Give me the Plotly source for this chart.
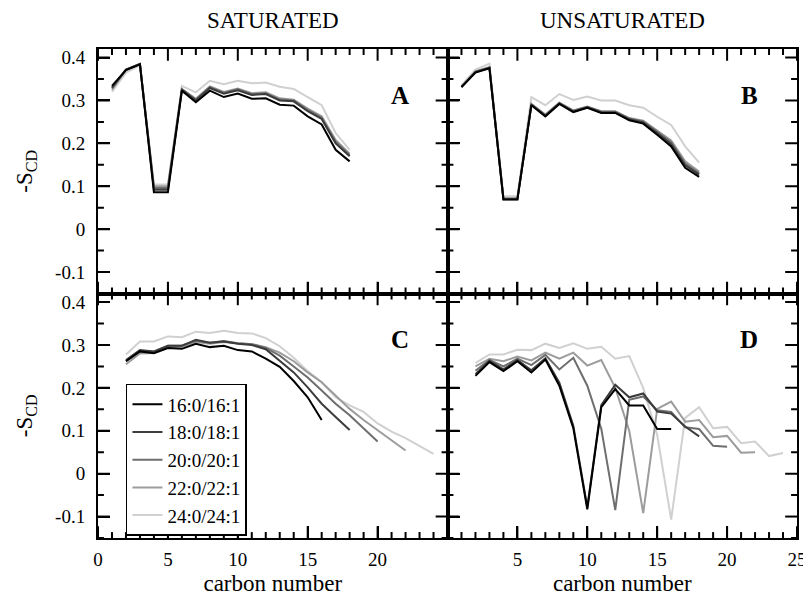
import plotly.graph_objects as go
from plotly.subplots import make_subplots

# ---------------- data ----------------
series_names = ["16:0/16:1", "18:0/18:1", "20:0/20:1", "22:0/22:1", "24:0/24:1"]
series_colors = ["#000000", "#3c3c3c", "#6e6e6e", "#9c9c9c", "#d0d0d0"]

# Panel A (saturated chain, carbons 1..18)
A_x = list(range(1, 19))
A_16 = [0.334, 0.371, 0.384, 0.086, 0.086, 0.323, 0.296, 0.323, 0.308, 0.316, 0.304, 0.305, 0.290, 0.288, 0.263, 0.244, 0.185, 0.158]
A_18 = [0.330, 0.372, 0.385, 0.092, 0.092, 0.325, 0.300, 0.329, 0.316, 0.324, 0.313, 0.315, 0.300, 0.298, 0.275, 0.257, 0.200, 0.170]
A_20 = [0.328, 0.372, 0.385, 0.096, 0.096, 0.326, 0.302, 0.331, 0.318, 0.326, 0.315, 0.317, 0.302, 0.300, 0.278, 0.260, 0.204, 0.173]
A_22 = [0.325, 0.371, 0.384, 0.100, 0.100, 0.327, 0.304, 0.333, 0.320, 0.328, 0.317, 0.319, 0.305, 0.302, 0.281, 0.263, 0.208, 0.176]
A_24 = [0.320, 0.365, 0.382, 0.104, 0.104, 0.334, 0.319, 0.346, 0.338, 0.346, 0.340, 0.342, 0.332, 0.327, 0.308, 0.289, 0.224, 0.185]

# Panel B (unsaturated chain, carbons 1..18)
B_x = list(range(1, 19))
B_16 = [0.331, 0.365, 0.375, 0.069, 0.069, 0.289, 0.263, 0.292, 0.273, 0.283, 0.271, 0.271, 0.254, 0.246, 0.220, 0.193, 0.143, 0.122]
B_18 = [0.331, 0.366, 0.376, 0.070, 0.070, 0.290, 0.264, 0.293, 0.274, 0.284, 0.272, 0.272, 0.256, 0.249, 0.224, 0.198, 0.149, 0.127]
B_20 = [0.332, 0.367, 0.377, 0.071, 0.071, 0.291, 0.266, 0.294, 0.276, 0.285, 0.274, 0.274, 0.258, 0.251, 0.227, 0.203, 0.153, 0.130]
B_22 = [0.333, 0.368, 0.378, 0.072, 0.072, 0.292, 0.267, 0.295, 0.277, 0.286, 0.275, 0.275, 0.259, 0.253, 0.230, 0.207, 0.158, 0.134]
B_24 = [0.335, 0.372, 0.386, 0.077, 0.077, 0.308, 0.289, 0.315, 0.301, 0.309, 0.300, 0.300, 0.289, 0.283, 0.262, 0.243, 0.193, 0.155]

# Panel C (saturated chain of each lipid, carbons 2..n)
C_16 = [0.262, 0.285, 0.281, 0.293, 0.291, 0.303, 0.295, 0.298, 0.288, 0.285, 0.268, 0.249, 0.216, 0.178, 0.125]
C_18 = [0.265, 0.288, 0.285, 0.298, 0.298, 0.312, 0.305, 0.308, 0.303, 0.300, 0.290, 0.262, 0.236, 0.201, 0.163, 0.132, 0.102]
C_20 = [0.262, 0.286, 0.284, 0.298, 0.299, 0.310, 0.305, 0.309, 0.304, 0.302, 0.293, 0.275, 0.250, 0.224, 0.194, 0.163, 0.136, 0.106, 0.075]
C_22 = [0.255, 0.280, 0.281, 0.295, 0.296, 0.307, 0.303, 0.307, 0.304, 0.302, 0.295, 0.282, 0.262, 0.236, 0.213, 0.182, 0.151, 0.125, 0.102, 0.079, 0.054]
C_24 = [0.278, 0.308, 0.308, 0.320, 0.318, 0.331, 0.328, 0.333, 0.328, 0.327, 0.316, 0.297, 0.270, 0.239, 0.213, 0.178, 0.159, 0.144, 0.117, 0.098, 0.083, 0.064, 0.046]

# Panel D (unsaturated chain of each lipid, carbons 2..n)
D_16 = [0.228, 0.260, 0.239, 0.262, 0.236, 0.266, 0.205, 0.106, -0.083, 0.155, 0.197, 0.159, 0.159, 0.104, 0.104]
D_18 = [0.232, 0.263, 0.243, 0.265, 0.241, 0.269, 0.212, 0.112, -0.078, 0.160, 0.207, 0.178, 0.187, 0.145, 0.140, 0.110, 0.087]
D_20 = [0.240, 0.265, 0.250, 0.268, 0.253, 0.277, 0.243, 0.270, 0.205, 0.105, -0.085, 0.172, 0.180, 0.148, 0.144, 0.108, 0.104, 0.065, 0.063]
D_22 = [0.250, 0.268, 0.262, 0.273, 0.264, 0.282, 0.268, 0.282, 0.252, 0.265, 0.200, 0.100, -0.092, 0.151, 0.168, 0.121, 0.125, 0.085, 0.088, 0.049, 0.050]
D_24 = [0.258, 0.278, 0.278, 0.289, 0.288, 0.303, 0.293, 0.304, 0.291, 0.296, 0.268, 0.274, 0.200, 0.090, -0.107, 0.130, 0.155, 0.106, 0.109, 0.071, 0.075, 0.041, 0.048]

col_titles = ["SATURATED", "UNSATURATED"]
panel_labels = ["A", "B", "C", "D"]
x_title = "carbon number"
y_title = "-S<sub>CD</sub>"
y_tickvals = [-0.1, 0, 0.1, 0.2, 0.3, 0.4]
y_ticktext = ["-0.1", "0", "0.1", "0.2", "0.3", "0.4"]
y_minor_vals = [-0.15, -0.05, 0.05, 0.15, 0.25, 0.35]
x_tickvals = [0, 5, 10, 15, 20, 25]
x_minor_vals = [v for v in range(0, 26) if v % 5 != 0]
xl_ticktext = ["0", "5", "10", "15", "20", " "]
xr_ticktext = [" ", "5", "10", "15", "20", "25"]

FONT = "Times New Roman, Liberation Serif, serif"
X_RANGE = [0, 25]
Y_RANGE = [-0.15, 0.42]

fig = make_subplots(rows=2, cols=2, horizontal_spacing=0, vertical_spacing=0)

panels = [
    (1, 1, [(A_x, A_16), (A_x, A_18), (A_x, A_20), (A_x, A_22), (A_x, A_24)]),
    (1, 2, [(B_x, B_16), (B_x, B_18), (B_x, B_20), (B_x, B_22), (B_x, B_24)]),
    (2, 1, [(list(range(2, 2 + len(v))), v) for v in [C_16, C_18, C_20, C_22, C_24]]),
    (2, 2, [(list(range(2, 2 + len(v))), v) for v in [D_16, D_18, D_20, D_22, D_24]]),
]

# ---- tick marks on all four frame sides (tick values -> axis units) ----
PANEL_W, PANEL_H = 354.0, 248.5
MAJ, MIN = 12.0, 6.0
xpx = (X_RANGE[1] - X_RANGE[0]) / PANEL_W   # x units per pixel
ypx = (Y_RANGE[1] - Y_RANGE[0]) / PANEL_H   # y units per pixel


def tick_path():
    tx, ty = [], []
    for vals, L in ((x_tickvals, MAJ), (x_minor_vals, MIN)):
        for v in vals:
            tx += [v, v, None, v, v, None]
            ty += [Y_RANGE[0], Y_RANGE[0] + L * ypx, None, Y_RANGE[1], Y_RANGE[1] - L * ypx, None]
    for vals, L in ((y_tickvals, MAJ), (y_minor_vals, MIN)):
        for v in vals:
            tx += [X_RANGE[0], X_RANGE[0] + L * xpx, None, X_RANGE[1], X_RANGE[1] - L * xpx, None]
            ty += [v, v, None, v, v, None]
    return tx, ty


for (r, c, data) in panels:
    tx, ty = tick_path()
    fig.add_trace(go.Scatter(x=tx, y=ty, mode="lines", line=dict(color="black", width=2),
                             hoverinfo="skip", showlegend=False, connectgaps=False),
                  row=r, col=c)
    for i in reversed(range(5)):
        xs, ys = data[i]
        fig.add_trace(go.Scatter(
            x=xs, y=ys, mode="lines",
            line=dict(color=series_colors[i], width=2),
            name=series_names[i],
            showlegend=(r == 2 and c == 1),
            legendrank=i + 1,
        ), row=r, col=c)

for r in (1, 2):
    for c in (1, 2):
        xa = dict(
            range=X_RANGE, tickmode="array", tickvals=x_tickvals,
            ticktext=(xl_ticktext if c == 1 else xr_ticktext),
            showticklabels=(r == 2),
            ticks="inside", ticklen=12, tickwidth=2, tickcolor="#000000",
            showline=True, linecolor="black", linewidth=2, mirror=True,
            showgrid=False, zeroline=False, ticklabelstandoff=3,
            tickfont=dict(family=FONT, size=19, color="black"),
        )
        if r == 2:
            xa["title"] = dict(text=x_title, font=dict(family=FONT, size=23, color="black"), standoff=6)
        fig.update_xaxes(row=r, col=c, **xa)

        ya = dict(
            range=Y_RANGE, tickmode="array", tickvals=y_tickvals, ticktext=y_ticktext,
            showticklabels=(c == 1),
            ticks="inside", ticklen=12, tickwidth=2, tickcolor="#000000",
            showline=True, linecolor="black", linewidth=2, mirror=True,
            showgrid=False, zeroline=False, ticklabelstandoff=7,
            tickfont=dict(family=FONT, size=19, color="black"),
        )
        if c == 1:
            ya["title"] = dict(text=y_title, font=dict(family=FONT, size=23, color="black"), standoff=16)
        fig.update_yaxes(row=r, col=c, **ya)

axis_ids = [("x", "y"), ("x2", "y2"), ("x3", "y3"), ("x4", "y4")]
for lab, (xa_id, ya_id) in zip(panel_labels, axis_ids):
    fig.add_annotation(text="<b>" + lab + "</b>", xref=xa_id + " domain", yref=ya_id + " domain",
                       x=0.895, y=0.875, showarrow=False,
                       font=dict(family=FONT, size=25, color="black"))

for i, t in enumerate(col_titles):
    fig.add_annotation(text=t, xref="paper", yref="paper", x=0.25 + 0.5 * i, y=1.058,
                       xanchor="center", yanchor="middle", showarrow=False,
                       font=dict(family=FONT, size=23, color="black"))

fig.update_layout(
    template="simple_white",
    width=811, height=596,
    margin=dict(l=90, r=13, t=41, b=58),
    paper_bgcolor="white", plot_bgcolor="white",
    font=dict(family=FONT, color="black"),
    legend=dict(x=0.04, y=0.315, xanchor="left", yanchor="top",
                bgcolor="white", bordercolor="black", borderwidth=1.5,
                font=dict(family=FONT, size=19, color="black"),
                traceorder="normal", itemwidth=30, tracegroupgap=0),
)

fig.write_html("out.html")
